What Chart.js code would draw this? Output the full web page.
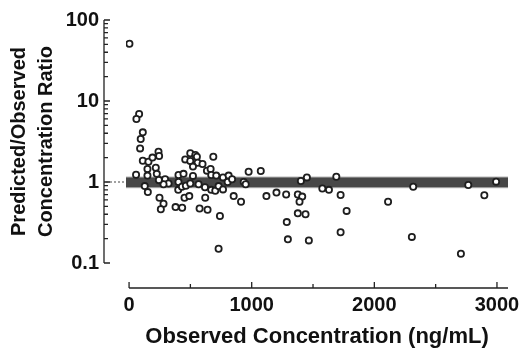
<!DOCTYPE html>
<html>
<head>
<meta charset="utf-8">
<script src="https://cdn.jsdelivr.net/npm/chart.js@4.4.1/dist/chart.umd.min.js"></script>
<style>
  html, body { margin: 0; padding: 0; background: #fff; }
  #wrap { width: 523px; height: 350px; }
</style>
</head>
<body>
<div id="wrap"><canvas id="chart"></canvas></div>
<script>
// Observed concentration (ng/mL) and predicted/observed ratio
const obsConc = [
  3, 82, 60, 112, 95, 90, 57, 112, 158, 191, 240, 245, 150, 218, 150, 226, 248, 294, 322, 128,
  153, 248, 281, 259, 379, 433, 403, 444, 403, 401, 452, 491, 431, 463, 499, 521, 458, 499, 499, 540,
  553, 559, 521, 599, 635, 665, 687, 670, 567, 619, 670, 703, 730, 766, 621, 575, 640, 741, 730, 711,
  766, 812, 804, 840, 853, 913, 935, 951, 975, 1074, 1120, 1202, 1281, 1376, 1412, 1390, 1401, 1450, 1376, 1439,
  1286, 1295, 1466, 1576, 1630, 1690, 1725, 1774, 1725, 2112, 2317, 2766, 2993, 2897, 2306, 2706, 281, 243
];
const ratio = [
  51, 6.9, 6.0, 4.1, 3.4, 2.6, 1.23, 1.83, 1.78, 2.0, 2.37, 2.09, 1.45, 1.5, 1.2, 1.26, 1.05, 1.08, 0.96, 0.89,
  0.75, 0.64, 0.54, 0.46, 0.49, 0.48, 1.22, 1.26, 1.0, 0.8, 0.64, 0.67, 0.875, 0.9, 0.96, 1.19, 1.9, 2.26, 1.82, 2.15,
  2.05, 1.73, 1.55, 1.67, 1.38, 1.45, 2.05, 1.22, 0.94, 0.86, 0.8, 0.78, 0.89, 0.81, 0.64, 0.47, 0.455, 0.38, 0.15, 1.2,
  1.14, 1.2, 1.0, 1.08, 0.67, 0.57, 1.0, 0.94, 1.34, 1.37, 0.67, 0.74, 0.7, 0.7, 0.66, 0.57, 1.03, 1.14, 0.41, 0.4,
  0.32, 0.196, 0.19, 0.83, 0.8, 1.16, 0.69, 0.44, 0.24, 0.57, 0.875, 0.92, 1.01, 0.685, 0.21, 0.13, 0.94, 1.06
];

// acceptance band (0.85 - 1.15)
const bandX = [-25, 3090];
const bandUpper = [1.15, 1.15];
const bandLower = [0.85, 0.85];

const xTicks = [0, 1000, 2000, 3000];
const xMinorTicks = [500, 1500, 2500];
const yTicks = [0.1, 1, 10, 100];
const yMinorSteps = [2, 3, 4, 5, 6, 7, 8, 9];

const FONT = 'Liberation Sans, Arial, Helvetica, sans-serif';

// Axis lines drawn detached from the plot, like the original
const axisPlugin = {
  id: 'axisLines',
  beforeDatasetsDraw(chart) {
    const { ctx, chartArea, scales: { x, y } } = chart;
    const ax = chartArea.left - 22;
    ctx.save();
    ctx.strokeStyle = '#222';
    ctx.lineWidth = 1.3;

    // y axis + ticks (pointing right)
    ctx.beginPath();
    ctx.moveTo(ax, y.getPixelForValue(yTicks[yTicks.length - 1]));
    ctx.lineTo(ax, y.getPixelForValue(yTicks[0]));
    yTicks.forEach(v => {
      const py = y.getPixelForValue(v);
      ctx.moveTo(ax, py);
      ctx.lineTo(ax + 6, py);
    });
    yTicks.slice(0, -1).forEach(d => {
      yMinorSteps.forEach(m => {
        const py = y.getPixelForValue(d * m);
        ctx.moveTo(ax, py);
        ctx.lineTo(ax + 4, py);
      });
    });
    ctx.stroke();

    // x axis + ticks (pointing up)
    const ay = chartArea.bottom + 25;
    ctx.beginPath();
    ctx.moveTo(x.getPixelForValue(0), ay);
    ctx.lineTo(chartArea.right, ay);
    xTicks.forEach(v => {
      const px = x.getPixelForValue(v);
      ctx.moveTo(px, ay);
      ctx.lineTo(px, ay - 6);
    });
    xMinorTicks.forEach(v => {
      const px = x.getPixelForValue(v);
      ctx.moveTo(px, ay);
      ctx.lineTo(px, ay - 4);
    });
    ctx.stroke();

    // dotted line at ratio = 1
    ctx.beginPath();
    ctx.setLineDash([2, 2]);
    ctx.lineWidth = 1;
    ctx.strokeStyle = '#444';
    const p1 = y.getPixelForValue(1);
    ctx.moveTo(ax + 2, p1);
    ctx.lineTo(x.getPixelForValue(bandX[0]), p1);
    ctx.stroke();
    ctx.restore();
  }
};

const points = obsConc.map((v, i) => ({ x: v, y: ratio[i] }));

new Chart(document.getElementById('chart'), {
  type: 'scatter',
  data: {
    datasets: [
      {
        type: 'line',
        data: bandX.map((v, i) => ({ x: v, y: bandUpper[i] })),
        borderColor: '#a8a8a8',
        borderWidth: 1,
        backgroundColor: '#474747',
        fill: '+1',
        pointRadius: 0,
        order: 3
      },
      {
        type: 'line',
        data: bandX.map((v, i) => ({ x: v, y: bandLower[i] })),
        borderColor: '#a8a8a8',
        borderWidth: 1,
        fill: false,
        pointRadius: 0,
        order: 2
      },
      {
        data: points,
        pointRadius: 3.1,
        pointBorderWidth: 1.8,
        pointBorderColor: '#1e1e1e',
        pointBackgroundColor: '#fff',
        order: 1
      }
    ]
  },
  options: {
    responsive: true,
    maintainAspectRatio: false,
    animation: false,
    layout: { padding: { top: 20, right: 15, left: 0, bottom: 0 } },
    plugins: {
      legend: { display: false },
      tooltip: { enabled: false }
    },
    scales: {
      x: {
        type: 'linear',
        min: -25,
        max: 3090,
        afterBuildTicks: s => { s.ticks = xTicks.map(v => ({ value: v })); },
        afterFit: s => { s.height = 87; s.paddingLeft = 0; s.paddingRight = 0; },
        grid: { display: false, drawTicks: false },
        border: { display: false },
        ticks: {
          padding: 30,
          maxRotation: 0,
          autoSkip: false,
          color: '#111',
          callback: v => String(v),
          font: { family: FONT, size: 20, weight: 'bold' }
        },
        title: {
          display: true,
          text: 'Observed Concentration (ng/mL)',
          color: '#111',
          padding: { top: 0, bottom: 0 },
          font: { family: FONT, size: 22, weight: 'bold' }
        }
      },
      y: {
        type: 'logarithmic',
        min: 0.1,
        max: 100,
        afterBuildTicks: s => { s.ticks = yTicks.map(v => ({ value: v })); },
        afterFit: s => { s.width = 126; s.paddingTop = 0; s.paddingBottom = 0; },
        grid: { display: false, drawTicks: false },
        border: { display: false },
        ticks: {
          padding: 27,
          color: '#111',
          callback: v => String(v),
          font: { family: FONT, size: 20, weight: 'bold' }
        },
        title: {
          display: true,
          text: ['Predicted/Observed', 'Concentration Ratio'],
          color: '#111',
          padding: { top: 6, bottom: 0 },
          font: { family: FONT, size: 20, weight: 'bold', lineHeight: 1.35 }
        }
      }
    }
  },
  plugins: [axisPlugin]
});
</script>
</body>
</html>
